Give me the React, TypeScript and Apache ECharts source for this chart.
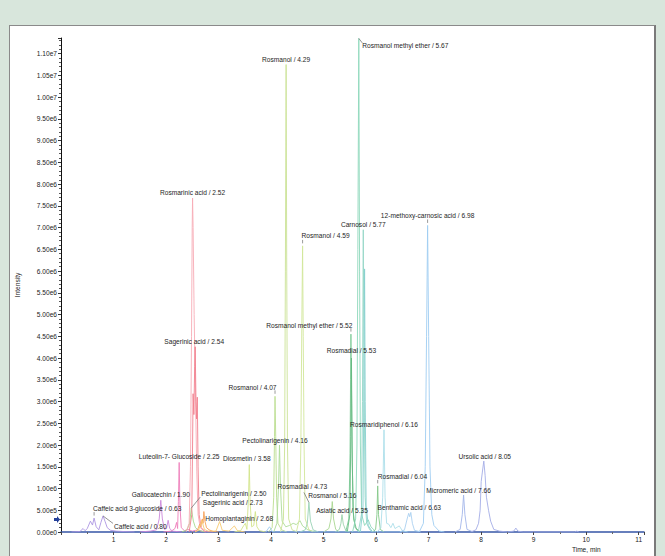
import React, { useEffect, useRef } from 'react';
import * as echarts from 'echarts';

// ---- data (time in min, intensity in millions of counts) ----
const caffeicTrace = [[0.2,0],[0.36,0.01],[0.42,0.08],[0.46,0.03],[0.5,0.08],[0.56,0.25],[0.6,0.16],[0.63,0.32],[0.67,0.12],[0.72,0.05],[0.76,0.22],[0.8,0.37],[0.84,0.24],[0.88,0.1],[0.94,0.04],[1.05,0.02],[1.2,0.01],[1.4,0]];
const gallocatechinTrace = [[1.5,0],[1.7,0.02],[1.82,0.05],[1.87,0.3],[1.9,0.73],[1.93,0.3],[1.97,0.06],[2.01,0.08],[2.04,0.27],[2.07,0.08],[2.12,0.02],[2.3,0]];
const luteolinTrace = [[1.95,0],[2.1,0.02],[2.17,0.08],[2.2,0.22],[2.22,0.08],[2.235,0.7],[2.25,1.6],[2.265,0.6],[2.29,0.1],[2.35,0.03],[2.42,0.06],[2.5,0.02],[2.6,0.05],[2.7,0.01],[2.9,0]];
const rosmarinicTrace = [[2.38,0],[2.44,0.2],[2.465,1.5],[2.485,4.5],[2.498,7.0],[2.505,7.68],[2.515,7.0],[2.535,5.0],[2.56,3.2],[2.585,1.4],[2.61,0.4],[2.65,0.1],[2.75,0]];
const sagerinic254Trace = [[2.44,0],[2.49,0.4],[2.505,2.0],[2.515,3.18],[2.53,2.7],[2.545,3.8],[2.555,4.26],[2.57,3.0],[2.58,2.6],[2.595,3.1],[2.61,1.5],[2.63,0.4],[2.67,0.1],[2.75,0]];
const sagerinic273Trace = [[2.55,0],[2.6,0.05],[2.64,0.18],[2.66,0.12],[2.69,0.3],[2.705,0.2],[2.72,0.47],[2.74,0.25],[2.77,0.1],[2.82,0.05],[2.9,0.01],[3.0,0]];
const homoplantagininTrace = [[2.55,0],[2.62,0.04],[2.68,0.27],[2.73,0.06],[2.8,0.02],[2.95,0.02],[3.02,0.24],[3.07,0.04],[3.2,0.02],[3.3,0.14],[3.36,0.03],[3.5,0]];
const pectolinarigenin250Trace = [[2.3,0],[2.4,0.05],[2.45,0.2],[2.48,0.55],[2.52,0.25],[2.56,0.1],[2.62,0.04],[2.75,0]];
const diosmetinTrace = [[3.3,0],[3.42,0.03],[3.48,0.15],[3.51,0.2],[3.54,0.06],[3.57,0.8],[3.585,1.55],[3.6,0.7],[3.63,0.12],[3.67,0.15],[3.7,0.47],[3.73,0.12],[3.78,0.03],[3.9,0]];
const rosmanol407Trace = [[3.95,0],[4.02,0.1],[4.05,0.8],[4.065,2.2],[4.075,3.12],[4.088,2.2],[4.105,0.8],[4.13,0.2],[4.2,0.05],[4.3,0]];
const pectolinarigenin416Trace = [[4.05,0],[4.11,0.2],[4.14,1.0],[4.16,2.0],[4.18,1.0],[4.21,0.25],[4.28,0.12],[4.35,0.15],[4.42,0.2],[4.48,0.17],[4.55,0.26],[4.6,0.14],[4.7,0.05],[4.85,0]];
const rosmanol429Trace = [[4.18,0],[4.235,0.3],[4.258,2.0],[4.272,6.0],[4.286,10.75],[4.298,6.0],[4.312,2.0],[4.335,0.3],[4.4,0.05],[4.5,0]];
const rosmanol459Trace = [[4.48,0],[4.54,0.3],[4.567,2.0],[4.585,4.8],[4.6,6.58],[4.612,4.5],[4.628,2.0],[4.65,0.3],[4.72,0.05],[4.8,0]];
const rosmadial473Trace = [[4.55,0],[4.65,0.05],[4.69,0.2],[4.72,0.68],[4.75,0.25],[4.8,0.05],[4.9,0]];
const rosmanol516Trace = [[5.0,0],[5.1,0.08],[5.14,0.3],[5.165,0.7],[5.19,0.3],[5.23,0.06],[5.3,0]];
const asiaticTrace = [[5.22,0],[5.3,0.06],[5.33,0.2],[5.35,0.4],[5.375,0.18],[5.42,0.04],[5.5,0]];
const rme552Trace = [[5.42,0],[5.48,0.3],[5.503,1.8],[5.513,3.5],[5.52,4.55],[5.53,3.4],[5.545,1.6],[5.57,0.3],[5.63,0.05],[5.7,0]];
const rosmadial553Trace = [[5.45,0],[5.5,0.4],[5.518,2.2],[5.53,4.0],[5.542,2.0],[5.56,0.5],[5.6,0.1],[5.7,0]];
const rme567Trace = [[5.55,0],[5.61,0.3],[5.635,2.0],[5.652,6.5],[5.67,11.35],[5.685,6.0],[5.7,2.0],[5.725,0.4],[5.78,0.15],[5.85,0.28],[5.9,0.12],[6.0,0]];
const carnosolTrace = [[5.66,0],[5.72,0.4],[5.74,3.0],[5.755,6.95],[5.77,3.5],[5.79,0.8],[5.82,0.2],[5.88,0.05],[5.95,0]];
const carnosol2Trace = [[5.7,0],[5.75,0.6],[5.768,3.5],[5.78,6.05],[5.792,3.0],[5.81,0.6],[5.85,0.15],[5.93,0]];
const rosmadial604Trace = [[5.93,0],[5.99,0.06],[6.015,0.4],[6.03,1.06],[6.045,0.4],[6.08,0.06],[6.15,0]];
const rosmaridiphenolTrace = [[6.02,0],[6.09,0.1],[6.125,0.8],[6.15,2.35],[6.17,0.8],[6.2,0.2],[6.24,0.18],[6.28,0.1],[6.32,0.2],[6.36,0.08],[6.44,0.14],[6.5,0.03],[6.6,0]];
const benthamicTrace = [[6.45,0],[6.54,0.05],[6.59,0.3],[6.62,0.43],[6.64,0.35],[6.66,0.45],[6.69,0.2],[6.73,0.04],[6.85,0]];
const methoxyCarnosicTrace = [[3.9,0],[3.97,0.12],[4.03,0],[6.82,0],[6.9,0.2],[6.935,1.5],[6.96,4.5],[6.98,7.05],[7.0,4.5],[7.025,1.5],[7.06,0.4],[7.1,0.15],[7.2,0.02],[7.3,0]];
const micromericTrace = [[7.5,0],[7.6,0.06],[7.64,0.4],[7.665,0.85],[7.69,0.4],[7.73,0.06],[7.85,0]];
const ursolicTrace = [[7.8,0],[7.9,0.05],[7.95,0.2],[7.98,0.5],[8.0,1.16],[8.03,1.45],[8.05,1.63],[8.075,1.3],[8.1,0.8],[8.14,0.5],[8.18,0.25],[8.24,0.06],[8.35,0.02],[8.5,0],[8.62,0.02],[8.66,0.09],[8.7,0.02],[8.8,0],[9.78,0],[9.82,0.02],[9.86,0]];

const labelNames = [
  'Caffeic acid 3-glucoside / 0.63', 'Caffeic acid / 0.80', 'Gallocatechin / 1.90',
  'Luteolin-7- Glucoside / 2.25', 'Rosmarinic acid / 2.52', 'Sagerinic acid / 2.54',
  'Pectolinarigenin / 2.50', 'Sagerinic acid / 2.73', 'Homoplantaginin / 2.68',
  'Diosmetin / 3.58', 'Rosmanol / 4.07', 'Pectolinarigenin / 4.16', 'Rosmanol / 4.29',
  'Rosmanol / 4.59', 'Rosmadial / 4.73', 'Rosmanol / 5.16', 'Asiatic acid / 5.35',
  'Rosmanol methyl ether / 5.52', 'Rosmadial / 5.53', 'Rosmanol methyl ether / 5.67',
  'Carnosol / 5.77', 'Rosmadial / 6.04', 'Rosmaridiphenol / 6.16', 'Benthamic acid / 6.63',
  '12-methoxy-carnosic acid / 6.98', 'Micromeric acid / 7.66', 'Ursolic acid / 8.05'
];
const labelTimes = [0.63, 0.8, 1.9, 2.25, 2.505, 2.555, 2.48, 2.72, 2.68, 3.585, 4.075, 4.16, 4.286, 4.6, 4.72, 5.165, 5.35, 5.52, 5.53, 5.67, 5.755, 6.03, 6.15, 6.66, 6.98, 7.665, 8.05];
const labelHeights = [0.32, 0.37, 0.73, 1.6, 7.68, 4.26, 0.55, 0.47, 0.27, 1.55, 3.12, 2.0, 10.75, 6.58, 0.68, 0.7, 0.4, 4.55, 4.0, 11.35, 6.95, 1.06, 2.35, 0.45, 7.05, 0.85, 1.63];
const xTickValues = [1, 2, 3, 4, 5, 6, 7, 8, 9, 10, 11];

// ---- styles ----
const FONT = 'Liberation Sans, Arial, sans-serif';
const traces = [
  { data: caffeicTrace, color: '#ad95e2' },
  { data: gallocatechinTrace, color: '#cc88da' },
  { data: luteolinTrace, color: '#ee7fbb' },
  { data: pectolinarigenin250Trace, color: '#a6da8c' },
  { data: rosmarinicTrace, color: '#f7acb5' },
  { data: sagerinic254Trace, color: '#f27f8d' },
  { data: sagerinic273Trace, color: '#f5a25a' },
  { data: homoplantagininTrace, color: '#f8cb72' },
  { data: diosmetinTrace, color: '#d3e48a' },
  { data: rosmanol407Trace, color: '#bbde90' },
  { data: pectolinarigenin416Trace, color: '#addb98' },
  { data: rosmanol429Trace, color: '#cbe295' },
  { data: rosmanol459Trace, color: '#d1e69a' },
  { data: rosmadial473Trace, color: '#98d3b4' },
  { data: rosmanol516Trace, color: '#a9d792' },
  { data: asiaticTrace, color: '#9bd3ab' },
  { data: rme552Trace, color: '#7ccb96' },
  { data: rosmadial553Trace, color: '#66ba81' },
  { data: rme567Trace, color: '#8dd8bb' },
  { data: carnosolTrace, color: '#94d6c6' },
  { data: carnosol2Trace, color: '#86d0cf' },
  { data: rosmadial604Trace, color: '#84c889' },
  { data: rosmaridiphenolTrace, color: '#addfea' },
  { data: benthamicTrace, color: '#aad0f1' },
  { data: methoxyCarnosicTrace, color: '#9fcdf2' },
  { data: micromericTrace, color: '#a3b6ea' },
  { data: ursolicTrace, color: '#a4ade6' },
];
type Lay = { align: 'left' | 'center' | 'right'; dx: number; dy: number; tick?: boolean; leader?: number[] };
const labelLayout: Lay[] = [
  { align: 'left', dx: -1, dy: -10, tick: true },
  { align: 'left', dx: 11, dy: 11, leader: [0, 0, 10, 7.5] },
  { align: 'center', dx: 0, dy: -6 },
  { align: 'center', dx: 0, dy: -6 },
  { align: 'center', dx: 0, dy: -6 },
  { align: 'center', dx: -1, dy: -5 },
  { align: 'left', dx: 10, dy: -15, leader: [0, 0, 9, -11] },
  { align: 'left', dx: -1, dy: -9 },
  { align: 'left', dx: 3.5, dy: -2 },
  { align: 'center', dx: -2.5, dy: -6 },
  { align: 'right', dx: 1.5, dy: -9, tick: true },
  { align: 'center', dx: -4.5, dy: -5 },
  { align: 'center', dx: 0, dy: -5 },
  { align: 'left', dx: -1, dy: -10, tick: true },
  { align: 'center', dx: -6.6, dy: -15.5, leader: [-5, -10, 0, 0] },
  { align: 'center', dx: 0, dy: -6 },
  { align: 'center', dx: 0, dy: -4 },
  { align: 'right', dx: 1.5, dy: -9, tick: true },
  { align: 'center', dx: 0, dy: -8 },
  { align: 'left', dx: 3.5, dy: 7, leader: [0, 0, 3.5, 4.5] },
  { align: 'center', dx: 0, dy: -5 },
  { align: 'left', dx: 0, dy: -9, tick: true },
  { align: 'center', dx: 0, dy: -5 },
  { align: 'center', dx: -1.5, dy: -5 },
  { align: 'center', dx: 0, dy: -10, tick: true },
  { align: 'center', dx: -5, dy: -5 },
  { align: 'center', dx: 1, dy: -5 },
];

function yLabel(v: number) {
  const r = Math.round(v * 2) / 2;
  if (Math.abs(v - r) > 1e-6) return '';
  return (r * 1e6).toExponential(2).replace('e+', 'e');
}

export default function App() {
  const ref = useRef<HTMLDivElement>(null);
  useEffect(() => {
    const chart = echarts.init(ref.current as HTMLDivElement, null, { renderer: 'svg' });
    chart.setOption({
      animation: false,
      backgroundColor: 'transparent',
      grid: { left: 61, right: 21, top: 38, bottom: 24, containLabel: false },
      xAxis: {
        type: 'value', min: 0, max: 11.1, interval: 1,
        axisLine: { show: true, onZero: false, lineStyle: { color: '#3656a6', width: 1.5 } },
        axisTick: { show: true, length: 3, lineStyle: { color: '#444' } },
        minorTick: { show: true, splitNumber: 2, length: 2, lineStyle: { color: '#666' } },
        splitLine: { show: false },
        axisLabel: {
          fontSize: 6.6, color: '#222', margin: 3.5, fontFamily: FONT,
          formatter: (v: number) => (xTickValues.indexOf(v) >= 0 ? String(v) : ''),
        },
      },
      yAxis: {
        type: 'value', min: 0, max: 11.36, interval: 0.5,
        name: 'Intensity', nameLocation: 'middle', nameGap: 40,
        nameTextStyle: { fontSize: 6.6, color: '#222', fontFamily: FONT },
        axisLine: { show: true, onZero: false, lineStyle: { color: '#111', width: 1 } },
        axisTick: { show: true, length: 3, lineStyle: { color: '#333' } },
        minorTick: { show: true, splitNumber: 5, length: 2, lineStyle: { color: '#555' } },
        splitLine: { show: false },
        axisLabel: { fontSize: 6.6, color: '#222', margin: 4, fontFamily: FONT, formatter: yLabel },
      },
      series: traces.map((tr) => ({
        type: 'line', data: tr.data, showSymbol: false, symbol: 'none', silent: true,
        lineStyle: { width: 0.9, color: tr.color }, itemStyle: { color: tr.color },
      })),
    });

    const g: any[] = [];
    labelNames.forEach((name, i) => {
      const p = chart.convertToPixel({ gridIndex: 0 }, [labelTimes[i], labelHeights[i]]) as number[];
      const L = labelLayout[i];
      g.push({
        type: 'text', x: p[0] + L.dx, y: p[1] + L.dy, z: 100,
        style: { text: name, fontSize: 6.6, fontFamily: FONT, fill: '#1e1e1e', align: L.align, verticalAlign: 'middle' },
      });
      if (L.tick) {
        g.push({ type: 'line', z: 99, shape: { x1: p[0], y1: p[1] - 6, x2: p[0], y2: p[1] - 2.5 }, style: { stroke: '#9a9a9a', lineWidth: 1 } });
      }
      if (L.leader) {
        const [a, b, c, d] = L.leader;
        g.push({ type: 'line', z: 99, shape: { x1: p[0] + a, y1: p[1] + b, x2: p[0] + c, y2: p[1] + d }, style: { stroke: '#7a7a7a', lineWidth: 0.8 } });
      }
    });
    const t10 = chart.convertToPixel({ gridIndex: 0 }, [10, 0]) as number[];
    g.push({ type: 'text', x: t10[0], y: t10[1] + 17, z: 100, style: { text: 'Time, min', fontSize: 6.6, fontFamily: FONT, fill: '#222', align: 'center', verticalAlign: 'middle' } });
    const ar = chart.convertToPixel({ gridIndex: 0 }, [0, 0.29]) as number[];
    const ax = ar[0] - 1, ay = ar[1];
    g.push({
      type: 'polygon', z: 100,
      shape: { points: [[ax - 6, ay - 1.5], [ax - 3, ay - 1.5], [ax - 3, ay - 3.5], [ax, ay], [ax - 3, ay + 3.5], [ax - 3, ay + 1.5], [ax - 6, ay + 1.5]] },
      style: { fill: '#24409a' },
    });
    chart.setOption({ graphic: g });
    return () => chart.dispose();
  }, []);

  return (
    <div style={{ position: 'fixed', left: 0, top: 0, width: 665, height: 556, background: '#d8e6dc', overflow: 'hidden' }}>
      <div style={{ position: 'absolute', left: 9, top: 25, width: 647, height: 560, background: '#fff', borderLeft: '1.5px solid #8a8a8a', borderTop: '1.5px solid #8a8a8a', borderRight: '2px solid #7a7a7a', boxSizing: 'border-box' }} />
      <div ref={ref} style={{ position: 'absolute', left: 0, top: 0, width: 665, height: 556 }} />
    </div>
  );
}
